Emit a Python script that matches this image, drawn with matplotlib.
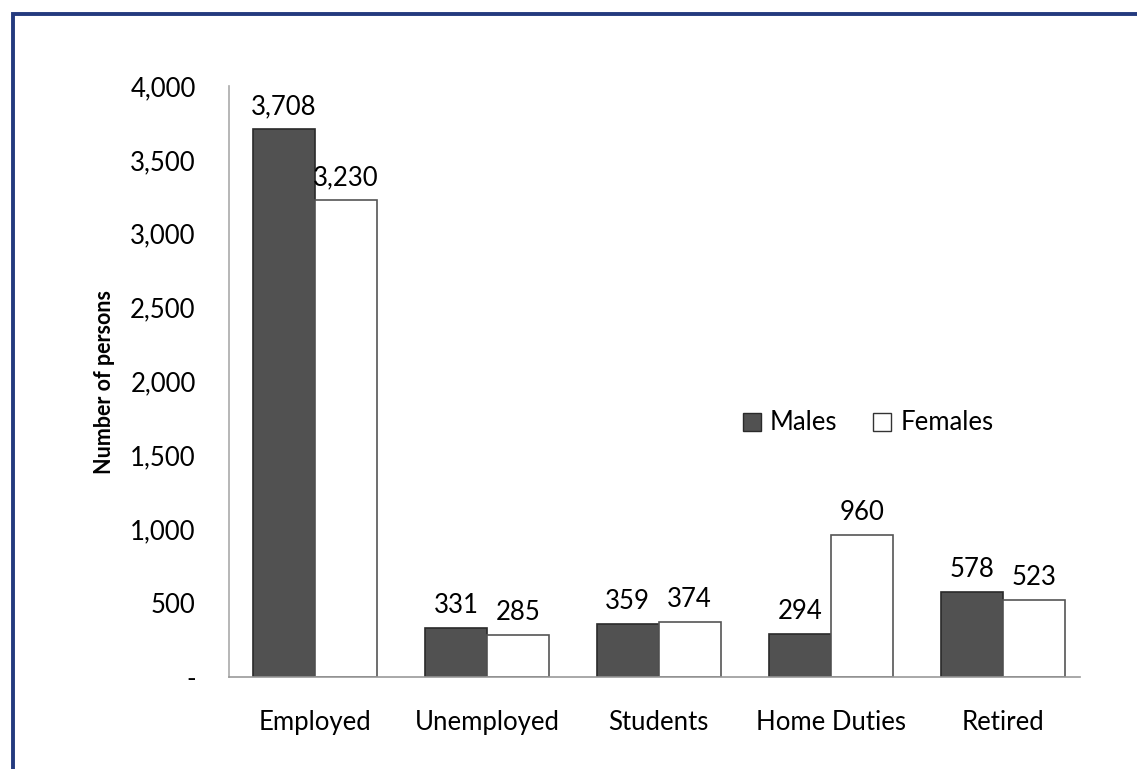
import matplotlib
matplotlib.use("Agg")
import matplotlib.pyplot as plt
import numpy as np
from matplotlib.patches import Rectangle, Patch
from matplotlib.ticker import FuncFormatter

categories = ["Employed", "Unemployed", "Students", "Home Duties", "Retired"]
males = [3708, 331, 359, 294, 578]
females = [3230, 285, 374, 960, 523]
yticks = [0, 500, 1000, 1500, 2000, 2500, 3000, 3500, 4000]

plt.rcParams['font.family'] = ['Lato', 'DejaVu Sans']
FS = 18.5

fig = plt.figure(figsize=(11.37, 7.69), dpi=100)
ax = fig.add_axes([229/1137, 1-677/769, (1080-229)/1137, (677-86)/769])

x = np.arange(len(categories))
w = 0.36
b1 = ax.bar(x - w/2, males, w, color="#515151", edgecolor="#2a2a2a", linewidth=1.2, label="Males")
b2 = ax.bar(x + w/2, females, w, color="white", edgecolor="#555555", linewidth=1.2, label="Females")

for bars, vals in ((b1, males), (b2, females)):
    for r, v in zip(bars, vals):
        ax.annotate(f"{v:,}", (r.get_x() + r.get_width()/2, v), xytext=(0, 7),
                    textcoords="offset points", ha="center", va="bottom", fontsize=FS)

ax.set_ylim(0, 4000)
ax.set_xlim(-0.5, 4.45)
ax.set_yticks(yticks)
ax.yaxis.set_major_formatter(FuncFormatter(lambda v, p: "-" if v == 0 else f"{int(v):,}"))
ax.set_xticks(x)
ax.set_xticklabels(categories)
ax.tick_params(axis="both", length=0, labelsize=FS)
ax.tick_params(axis="y", pad=24)
ax.tick_params(axis="x", pad=24)
for s in ("top", "right"):
    ax.spines[s].set_visible(False)
ax.spines["left"].set_color("#aaaaaa")
ax.spines["bottom"].set_color("#999999")
ax.spines["left"].set_linewidth(1.2)
ax.spines["bottom"].set_linewidth(1.2)

ax.set_ylabel("Number of persons", fontsize=15.5, fontweight="bold", labelpad=11)

handles = [Patch(facecolor="#515151", edgecolor="#2a2a2a", label="Males"),
           Patch(facecolor="white", edgecolor="#333333", label="Females")]
ax.legend(handles=handles, loc="center", bbox_to_anchor=((868-229)/(1080-229), (677-423)/(677-86)),
          ncol=2, frameon=False, fontsize=FS, handlelength=0.7, handleheight=0.7,
          handletextpad=0.35, columnspacing=1.4)

fig.patches.append(Rectangle((13/1137, -0.1), 1.2, 1 - 14/769 + 0.1, transform=fig.transFigure,
                             fill=False, edgecolor="#243a7e", linewidth=2.8))

fig.savefig("out.png", dpi=100)
